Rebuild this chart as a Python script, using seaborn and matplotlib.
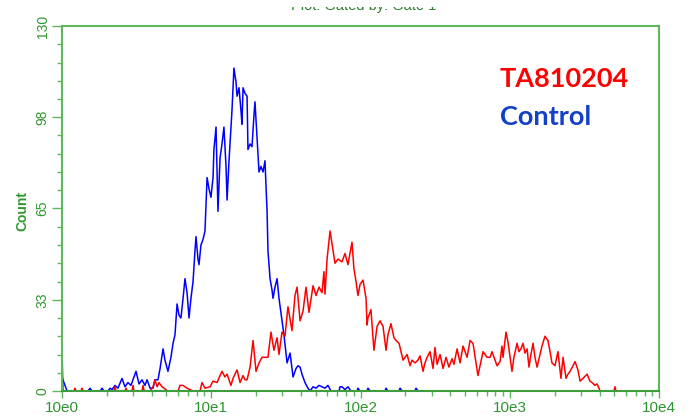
import numpy as np
import pandas as pd
import matplotlib
matplotlib.use("Agg")
import matplotlib.pyplot as plt
import seaborn as sns
from matplotlib.patches import Rectangle
from matplotlib.ticker import LogLocator, MultipleLocator, NullFormatter

# log10 of fluorescence intensity and event counts
control_log_fl = [
    0.000, 0.013, 0.034, 0.067, 0.174, 0.188, 0.201, 0.255, 0.268, 0.281,
    0.308, 0.322, 0.335, 0.355, 0.375, 0.402, 0.422, 0.442, 0.462, 0.482,
    0.496, 0.516, 0.536, 0.556, 0.570, 0.590, 0.610, 0.623, 0.643, 0.657,
    0.677, 0.690, 0.710, 0.730, 0.744, 0.757, 0.771, 0.784, 0.797, 0.811,
    0.824, 0.838, 0.851, 0.864, 0.878, 0.891, 0.898, 0.911, 0.918, 0.931,
    0.945, 0.958, 0.972, 0.985, 0.998, 1.012, 1.018, 1.032, 1.045, 1.059,
    1.072, 1.085, 1.099, 1.106, 1.119, 1.132, 1.139, 1.152, 1.166, 1.173,
    1.186, 1.199, 1.206, 1.213, 1.226, 1.240, 1.246, 1.260, 1.273, 1.286,
    1.293, 1.307, 1.320, 1.333, 1.347, 1.360, 1.374, 1.380, 1.394, 1.407,
    1.414, 1.427, 1.441, 1.454, 1.474, 1.487, 1.508, 1.528, 1.548, 1.568,
    1.581, 1.595, 1.608, 1.628, 1.648, 1.662, 1.682, 1.702, 1.722, 1.742,
    1.762, 1.782, 1.802, 1.856, 1.863, 1.876, 1.896, 1.916, 1.936, 1.977,
    1.983, 1.997, 2.044, 2.050, 2.064, 2.164, 2.171, 2.184, 2.258, 2.265,
    2.278, 2.365, 2.372, 2.385,
]
control_count = [
    5, 3, 0, 0, 0, 1, 0, 0, 1, 0,
    0, 1, 0.5, 2, 1, 4.5, 1.5, 3, 2, 5,
    7, 2.5, 4, 2, 4, 1, 1, 4, 4, 8,
    15, 11, 7, 12, 17, 20, 31, 27, 26, 33,
    40, 35, 26, 33, 39, 50, 55, 47, 45, 52,
    54, 57, 76, 72, 69, 76, 86, 94, 64, 83,
    88, 94, 80, 68, 82, 94, 100, 115, 110, 105,
    108, 100, 95, 108, 106, 105, 86, 88, 87, 98,
    103, 90, 78, 80, 78, 82, 64, 50, 40, 36,
    33, 37, 40, 33, 25, 20, 10, 13.5, 5, 8,
    9, 8.5, 6, 3, 1, 0, 1.5, 1, 2, 1.5,
    1, 2, 0, 0, 1.5, 1.5, 0.5, 1.5, 0, 0,
    1, 0, 0, 1, 0, 0, 1, 0, 0, 1,
    0, 0, 1, 0,
]

ta_log_fl = [
    0.000, 0.007, 0.080, 0.087, 0.094, 0.127, 0.134, 0.141, 0.348, 0.355,
    0.362, 0.422, 0.429, 0.436, 0.469, 0.476, 0.482, 0.536, 0.543, 0.550,
    0.590, 0.610, 0.623, 0.637, 0.650, 0.670, 0.697, 0.704, 0.777, 0.791,
    0.811, 0.838, 0.878, 0.925, 0.938, 0.958, 0.992, 1.012, 1.039, 1.059,
    1.072, 1.092, 1.106, 1.119, 1.132, 1.146, 1.159, 1.173, 1.193, 1.213,
    1.226, 1.240, 1.260, 1.280, 1.300, 1.320, 1.340, 1.360, 1.380, 1.400,
    1.420, 1.441, 1.454, 1.474, 1.494, 1.514, 1.541, 1.561, 1.575, 1.595,
    1.615, 1.635, 1.655, 1.682, 1.702, 1.722, 1.742, 1.755, 1.762, 1.776,
    1.796, 1.816, 1.829, 1.849, 1.876, 1.896, 1.916, 1.943, 1.956, 1.970,
    1.983, 1.997, 2.017, 2.037, 2.044, 2.050, 2.070, 2.090, 2.111, 2.131,
    2.151, 2.171, 2.184, 2.204, 2.224, 2.238, 2.258, 2.285, 2.312, 2.332,
    2.345, 2.365, 2.385, 2.399, 2.419, 2.432, 2.446, 2.466, 2.486, 2.499,
    2.513, 2.533, 2.553, 2.573, 2.593, 2.613, 2.626, 2.647, 2.667, 2.687,
    2.714, 2.734, 2.754, 2.774, 2.787, 2.801, 2.821, 2.848, 2.868, 2.881,
    2.901, 2.915, 2.935, 2.948, 2.955, 2.975, 2.988, 3.002, 3.015, 3.028,
    3.049, 3.062, 3.075, 3.089, 3.102, 3.116, 3.129, 3.142, 3.156, 3.169,
    3.183, 3.203, 3.216, 3.236, 3.256, 3.270, 3.283, 3.303, 3.323, 3.343,
    3.357, 3.377, 3.390, 3.404, 3.424, 3.437, 3.457, 3.471, 3.491, 3.518,
    3.538, 3.551, 3.571, 3.585, 3.598, 3.605, 3.698, 3.705, 3.712,
]
ta_count = [
    14.5, 0, 0, 1, 0, 0, 1, 0, 0, 1.5,
    0, 0, 1, 0, 0, 2, 0, 0, 2, 0,
    0, 1.5, 4, 1.5, 3, 1.5, 0.5, 0, 0, 2,
    2, 1, 0, 0, 3, 1, 1.5, 3.5, 3, 5.5,
    7, 5, 6, 4, 2, 4.5, 6, 7.5, 3, 5.5,
    4, 4, 8.5, 18, 7, 10, 12, 12, 12, 21,
    14.5, 19, 13, 21, 19.5, 30, 21.5, 34, 37, 25,
    28.5, 37, 28, 37.5, 34, 37, 35, 42.5, 34.5, 47,
    57, 50, 45.5, 47, 46, 49, 45, 53, 43.5, 39,
    34, 38, 39.5, 33, 23.5, 26, 29, 14.5, 23, 25,
    23, 14.5, 20, 24, 19, 18, 17, 11, 13, 9,
    11, 10, 11, 12.5, 7, 10, 12, 14, 8, 15.5,
    9.5, 13, 8, 12, 8.5, 11.5, 9.5, 15, 10, 16,
    12, 18, 17, 10, 5.5, 9, 14, 12, 12, 14,
    11, 9, 10.5, 16, 12, 21, 17.5, 12, 7, 12,
    17, 14, 15, 17, 13.5, 15, 8.5, 13, 17, 12,
    8.5, 13, 16, 19.5, 18, 14, 10, 9, 14, 4.5,
    12, 4.5, 6, 7, 9, 10.5, 7.5, 3.5, 4.5, 6,
    3.5, 3, 2, 2.5, 1, 0, 0, 1.5, 0,
]

x_ticks = [1, 10, 100, 1000, 10000]
x_tick_labels = ["10e0", "10e1", "10e2", "10e3", "10e4"]
y_ticks = [0, 32.5, 65, 97.5, 130]
y_tick_labels = ["0", "33", "65", "98", "130"]

sns.set_style("white")
plt.rcParams["font.family"] = ["Liberation Sans", "DejaVu Sans"]

axis_green = "#5DB85D"
text_green = "#2E962E"

fig = plt.figure(figsize=(6.89, 4.2), dpi=100)
ax = fig.add_axes([62 / 689, 29 / 420, 597 / 689, 365 / 420])

ctrl = pd.DataFrame({"fl": 10 ** np.array(control_log_fl), "count": control_count})
ta = pd.DataFrame({"fl": 10 ** np.array(ta_log_fl), "count": ta_count})
sns.lineplot(data=ctrl, x="fl", y="count", color="#0000FF", lw=1.1,
             estimator=None, sort=False, ax=ax)
sns.lineplot(data=ta, x="fl", y="count", color="#FF0000", lw=1.1,
             estimator=None, sort=False, ax=ax)

ax.set_xscale("log")
ax.set_xlim(1, 10000)
ax.set_ylim(0, 130)
ax.set_xticks(x_ticks)
ax.set_xticklabels(x_tick_labels)
ax.xaxis.set_minor_locator(LogLocator(base=10, subs=range(2, 10)))
ax.xaxis.set_minor_formatter(NullFormatter())
ax.set_yticks(y_ticks)
ax.set_yticklabels(y_tick_labels, rotation=90, va="center")
ax.yaxis.set_minor_locator(MultipleLocator(6.5))
ax.set_xlabel("")
ax.set_ylabel("")

ax.tick_params(which="both", direction="out", bottom=True, left=True,
               color=axis_green, labelcolor=text_green, width=1)
ax.tick_params(axis="y", which="major", length=7, labelsize=10, pad=2)
ax.tick_params(axis="y", which="minor", length=3.5)
ax.tick_params(axis="x", which="major", length=5, labelsize=11, pad=2)
ax.tick_params(axis="x", which="minor", length=3.5)
for s in ax.spines.values():
    s.set_color(axis_green)
    s.set_linewidth(1.5)
ax.spines["bottom"].set_color("#3E9E3E")

fig.text(22 / 689, 1 - 211 / 420, "Count", rotation=90, color=text_green,
         fontsize=10, fontweight="bold", ha="center", va="center")

fig.text(500 / 689, 1 - 87 / 420, "TA810204", color="#FF0000", fontsize=19.5,
         fontweight="bold", family=["Lato", "DejaVu Sans"], va="baseline")
fig.text(500 / 689, 1 - 125 / 420, "Control", color="#1240C8", fontsize=19.5,
         fontweight="bold", family=["Lato", "DejaVu Sans"], va="baseline")

# title is cut off by the top edge of the picture, only its foot shows
fig.text(364 / 689, 1 - 10 / 420, "Plot: Gated by: Gate 1",
         color="#2E7D2E", fontsize=10.5, ha="center", va="baseline", zorder=3)
fig.add_artist(Rectangle((0.3, 1 - 7 / 420), 0.5, 7 / 420, transform=fig.transFigure,
                         facecolor="white", edgecolor="none", zorder=10))

fig.savefig("out.png", dpi=100)
